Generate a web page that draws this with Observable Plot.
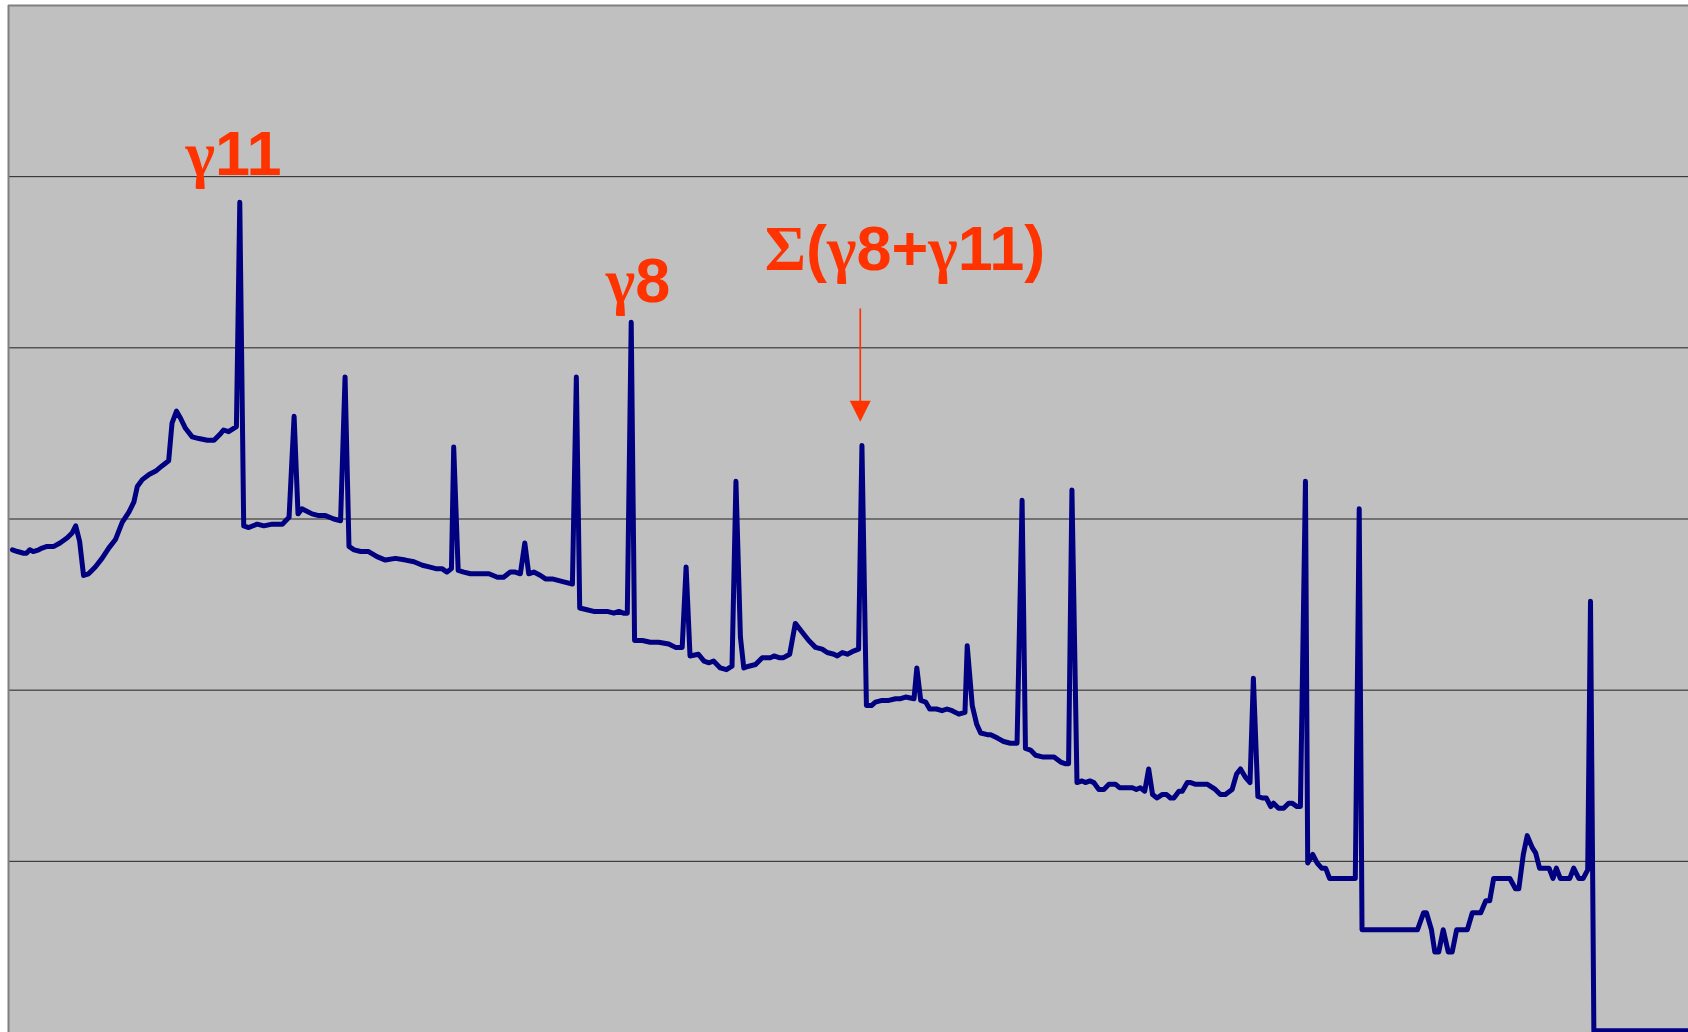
<!DOCTYPE html>
<html><head><meta charset="utf-8">
<script src="https://cdn.jsdelivr.net/npm/d3@7"></script>
<script src="https://cdn.jsdelivr.net/npm/@observablehq/plot@0.6"></script>
<style>html,body{margin:0;padding:0;background:#fff;} #chart svg{display:block;}</style>
</head><body><div id="chart"></div>
<script>
// channel position (arbitrary units) and log10(counts)
const channel = [
  0.7,1.6,2.7,3.2,3.8,4.4,5.4,6.0,6.9,8.1,
  9.2,10.5,11.4,12.0,12.7,13.4,14.3,15.5,16.7,17.9,
  19.1,20.3,21.5,22.4,23.0,23.9,25.1,26.3,27.4,28.6,
  29.2,30.0,30.7,31.6,32.8,34.0,35.5,36.7,37.9,38.4,
  39.3,40.7,41.3,42.0,42.9,44.4,45.6,47.1,48.9,50.1,
  51.0,51.7,52.4,53.0,54.2,55.4,56.6,58.1,59.3,60.1,
  60.8,61.7,62.9,64.3,65.8,67.3,69.1,70.9,72.4,73.9,
  75.1,76.3,77.4,78.3,79.1,79.5,80.3,81.3,82.5,83.4,
  84.3,85.8,87.3,88.4,89.6,90.5,91.4,92.2,92.9,93.8,
  95.0,95.9,97.1,98.3,99.5,100.7,101.4,102.0,103.3,104.5,
  105.7,106.9,108.1,109.0,109.8,110.5,111.2,111.8,113.2,114.6,
  116.1,117.9,119.1,120.3,121.0,121.7,123.2,124.2,125.1,125.9,
  127.1,128.2,129.2,129.9,130.7,131.3,132.2,133.4,134.6,136.1,
  136.7,137.6,138.4,139.5,140.5,141.7,142.9,144.1,145.3,146.2,
  147.4,148.0,148.9,149.8,151.0,151.8,152.4,153.2,154.1,154.8,
  156.0,157.2,158.4,159.3,160.2,161.7,162.2,162.9,163.8,164.5,
  165.7,166.7,167.6,168.5,169.7,170.8,171.2,172.1,172.9,173.6,
  174.8,175.4,176.6,177.7,178.9,180.1,181.0,181.6,182.5,183.4,
  184.6,185.8,186.7,187.9,188.8,189.3,189.9,190.8,191.7,192.3,
  193.1,193.8,194.7,195.6,196.5,197.7,198.4,199.5,200.7,201.4,
  202.1,202.9,203.6,204.3,205.1,206.0,206.8,207.5,208.1,209.0,
  209.6,210.5,211.1,212.0,214.1,215.5,216.4,217.3,218.5,219.3,
  220.0,220.9,221.7,222.3,223.1,223.9,224.6,225.4,225.9,226.8,
  227.7,228.6,229.2,230.1,230.7,231.6,232.0,232.9,233.7,234.5,
  235.2,235.9,240.5,241.2,241.7,251.6,252.7,253.2,254.1,254.7,
  255.4,256.2,257.1,257.8,258.6,260.5,261.4,262.9,263.8,264.5,
  265.2,268.1,269.1,269.7,270.5,271.2,272.1,272.7,273.4,275.1,
  275.8,276.4,277.1,278.8,279.5,280.4,281.2,282.0,282.5,283.1,
  300
];
const logCounts = [
  2.82,2.81,2.80,2.80,2.82,2.81,2.82,2.83,2.84,2.84,
  2.86,2.89,2.92,2.96,2.87,2.67,2.68,2.72,2.77,2.83,
  2.88,2.98,3.04,3.10,3.19,3.23,3.26,3.28,3.31,3.34,
  3.56,3.63,3.59,3.53,3.48,3.47,3.46,3.46,3.50,3.52,
  3.51,3.54,4.85,2.96,2.95,2.97,2.96,2.97,2.97,3.01,
  3.60,3.03,3.06,3.05,3.03,3.02,3.02,3.00,2.99,3.83,
  2.84,2.82,2.81,2.81,2.78,2.76,2.77,2.76,2.75,2.73,
  2.72,2.71,2.71,2.69,2.71,3.42,2.70,2.69,2.68,2.68,
  2.68,2.68,2.66,2.66,2.69,2.69,2.68,2.86,2.68,2.69,
  2.67,2.65,2.65,2.64,2.63,2.62,3.83,2.48,2.47,2.46,
  2.46,2.46,2.45,2.46,2.45,2.45,4.15,2.29,2.29,2.28,
  2.28,2.27,2.25,2.25,2.72,2.20,2.21,2.17,2.16,2.17,
  2.13,2.12,2.14,3.22,2.31,2.13,2.14,2.15,2.19,2.19,
  2.20,2.19,2.19,2.21,2.39,2.34,2.29,2.25,2.24,2.22,
  2.21,2.20,2.22,2.21,2.23,2.24,3.43,1.91,1.91,1.93,
  1.94,1.94,1.95,1.95,1.96,1.95,2.13,1.94,1.93,1.89,
  1.89,1.88,1.89,1.88,1.86,1.87,2.26,1.91,1.80,1.75,
  1.74,1.74,1.72,1.70,1.69,1.69,3.11,1.66,1.65,1.62,
  1.61,1.61,1.61,1.58,1.57,1.57,3.17,1.46,1.47,1.46,
  1.47,1.46,1.42,1.42,1.45,1.45,1.43,1.43,1.43,1.42,
  1.43,1.41,1.54,1.39,1.37,1.39,1.39,1.37,1.37,1.41,
  1.41,1.46,1.46,1.45,1.45,1.42,1.39,1.39,1.42,1.51,
  1.54,1.49,1.46,2.07,1.38,1.37,1.37,1.32,1.34,1.31,
  1.31,1.34,1.34,1.32,1.32,3.22,0.99,1.04,0.99,0.96,
  0.96,0.90,0.90,3.06,0.60,0.60,0.70,0.70,0.60,0.47,
  0.47,0.60,0.47,0.47,0.60,0.60,0.70,0.70,0.77,0.77,
  0.90,0.90,0.84,0.84,1.04,1.15,1.08,1.05,0.96,0.96,
  0.90,0.96,0.90,0.90,0.96,0.90,0.90,0.95,2.52,0.01,
  0.01
];
const gridLevels = [1, 2, 3, 4, 5];
const labels = ["γ11", "γ8", "Σ(γ8+γ11)"];
const labelX = [40.2, 112.4, 160.1];
const labelY = [5.01, 4.265, 4.452];
const arrowX = [152.1];
const arrowFrom = [4.23];
const arrowTo = [3.63];

const red = "#ff3300";
const downTriangle = {
  draw(ctx, size) {
    const r = Math.sqrt(size / Math.PI);
    ctx.moveTo(-r, -r);
    ctx.lineTo(r, -r);
    ctx.lineTo(0, r);
    ctx.closePath();
  }
};

const svg = Plot.plot({
  width: 1688,
  height: 1032,
  marginLeft: 8,
  marginRight: 0,
  marginTop: 5,
  marginBottom: 0,
  x: {domain: [0, 300], axis: null},
  y: {domain: [0, 6], axis: null},
  marks: [
    Plot.frame({fill: "#c0c0c0", stroke: "none"}),
    Plot.ruleY(gridLevels, {stroke: "#222", strokeWidth: 1}),
    Plot.ruleX([0], {stroke: "#808080", strokeWidth: 2}),
    Plot.ruleY([6], {stroke: "#808080", strokeWidth: 2}),
    Plot.line(logCounts, {x: channel, y: logCounts, stroke: "#000080", strokeWidth: 5, strokeLinejoin: "round", strokeLinecap: "round"}),
    Plot.link(arrowX, {x1: arrowX, x2: arrowX, y1: arrowFrom, y2: arrowTo, stroke: red, strokeWidth: 1.7}),
    Plot.dot(arrowX, {x: arrowX, y: arrowTo, r: 10.5, symbol: downTriangle, fill: red, stroke: "none"}),
    Plot.text(labels, {x: labelX, y: labelY, text: labels, textAnchor: "middle", lineAnchor: "bottom",
      fill: red, fontSize: 63, fontWeight: "bold", fontFamily: "'Liberation Sans', Arial, sans-serif"})
  ]
});

svg.querySelectorAll('g[aria-label="text"] text').forEach(el => {
  const s = el.textContent;
  el.textContent = "";
  for (const run of s.match(/[\u0370-\u03FF]+|[^\u0370-\u03FF]+/g)) {
    const t = document.createElementNS("http://www.w3.org/2000/svg", "tspan");
    if (/[\u0370-\u03FF]/.test(run)) t.setAttribute("font-family", "'Liberation Serif', 'Times New Roman', serif");
    t.textContent = run;
    el.appendChild(t);
  }
});

document.getElementById("chart").appendChild(svg);
</script>
</body></html>
